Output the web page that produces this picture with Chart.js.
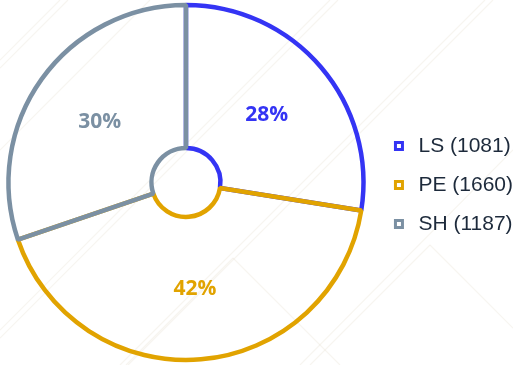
<!DOCTYPE html>
<html>
<head>
<meta charset="utf-8">
<script src="https://cdn.jsdelivr.net/npm/chart.js@4/dist/chart.umd.min.js"></script>
<style>
  html, body { margin: 0; padding: 0; background: #ffffff; }
  #wrap { width: 513px; height: 365px; }
</style>
</head>
<body>
<div id="wrap"><canvas id="c" width="513" height="365"></canvas></div>
<script>
// Share of items per group
const categories = ['LS', 'PE', 'SH'];
const counts = [1081, 1660, 1187];
const colors = ['#3434f4', '#e1a300', '#7b90a3'];
const legendTextColor = '#1d2a3b';

const total = counts.reduce((a, b) => a + b, 0);

// faint diagonal stripes behind the chart
const backdrop = {
  id: 'backdrop',
  beforeDraw(chart) {
    const ctx = chart.ctx;
    ctx.save();
    ctx.fillStyle = '#ffffff';
    ctx.fillRect(0, 0, chart.width, chart.height);
    ctx.strokeStyle = 'rgba(228,222,205,0.3)';
    ctx.lineWidth = 1.2;
    const segs = [
      [0, 60, 60, 0], [0, 68, 68, 0],
      [0, 330, 330, 0], [0, 338, 338, 0],
      [120, 365, 485, 0], [128, 365, 493, 0],
      [300, 365, 513, 150],
      [233, 258, 340, 365], [233, 258, 126, 365],
      [430, 245, 513, 328], [430, 245, 310, 365],
      [0, 150, 150, 0]
    ];
    segs.forEach(s => {
      ctx.beginPath();
      ctx.moveTo(s[0], s[1]);
      ctx.lineTo(s[2], s[3]);
      ctx.stroke();
    });
    ctx.restore();
  }
};

// percentage written in the middle of each ring segment
const sliceLabels = {
  id: 'sliceLabels',
  afterDatasetsDraw(chart) {
    const ctx = chart.ctx;
    const meta = chart.getDatasetMeta(0);
    ctx.save();
    ctx.font = '700 21px "Open Sans", "DejaVu Sans", sans-serif';
    ctx.textAlign = 'center';
    ctx.textBaseline = 'middle';
    meta.data.forEach((arc, i) => {
      const p = arc.getCenterPoint();
      ctx.fillStyle = colors[i];
      ctx.fillText(Math.round(counts[i] / total * 100) + '%', p.x, p.y + 1);
    });
    ctx.restore();
  }
};

new Chart(document.getElementById('c'), {
  type: 'doughnut',
  data: {
    labels: categories,
    datasets: [{
      data: counts,
      backgroundColor: 'rgba(255,255,255,0)',
      borderColor: colors,
      borderWidth: 4.5,
      hoverOffset: 0
    }]
  },
  options: {
    responsive: false,
    devicePixelRatio: 1,
    animation: false,
    events: [],
    radius: 177.5,
    cutout: 35,
    layout: { padding: { left: 0, right: -10, top: 0, bottom: 0 } },
    plugins: {
      tooltip: { enabled: false },
      legend: {
        position: 'right',
        title: { display: true, text: ' ', font: { size: 5, lineHeight: 1 }, padding: 0 },
        labels: {
          usePointStyle: true,
          boxWidth: 18,
          boxHeight: 7,
          padding: 18,
          color: legendTextColor,
          font: { family: '"Liberation Sans", Arial, sans-serif', size: 21 },
          generateLabels() {
            return categories.map((name, i) => ({
              text: name + ' (' + counts[i] + ')',
              fillStyle: '#ffffff',
              strokeStyle: colors[i],
              lineWidth: 3,
              pointStyle: 'rect',
              fontColor: legendTextColor,
              hidden: false,
              index: i
            }));
          }
        }
      }
    }
  },
  plugins: [backdrop, sliceLabels]
});
</script>
</body>
</html>
